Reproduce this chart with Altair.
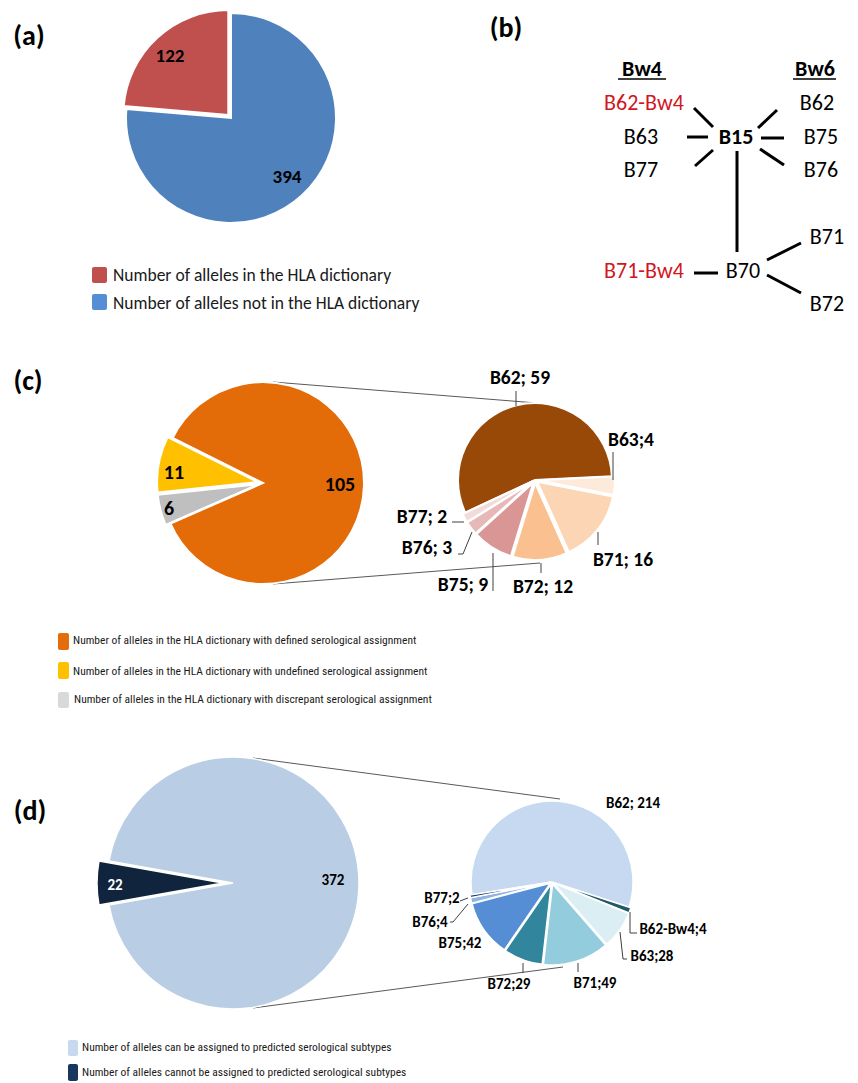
import altair as alt
import pandas as pd
import numpy as np

OFF = 8  # page margin: image coords -> plot coords

# ------------------------- DATA -------------------------
# (a)
a_names = ["Number of alleles not in the HLA dictionary", "Number of alleles in the HLA dictionary"]
a_values = [394, 122]
a_colors = ["#4F81BD", "#C0504D"]
a_legend_colors = ["#C0504D", "#558ED5"]
a_legend_text = ["Number of alleles in the HLA dictionary", "Number of alleles not in the HLA dictionary"]

# (b) serology tree
b_nodes = ["B62-Bw4", "B63", "B77", "B62", "B75", "B76", "B71", "B70", "B71-Bw4", "B72"]
b_node_colors = ["#D0161E", "black", "black", "black", "black", "black", "black", "black", "#D0161E", "black"]
b_heads = ["Bw4", "Bw6", "B15"]

# (c)
c_values = [105, 6, 11]
c_colors = ["#E36C09", "#BFBFBF", "#FFC000"]
c_legend_colors = ["#E46C0A", "#FFC000", "#D9D9D9"]
c_legend_text = [
    "Number of alleles in the HLA dictionary with defined serological  assignment",
    "Number of alleles in the HLA dictionary with undefined serological assignment",
    "Number of alleles in the HLA dictionary with discrepant serological  assignment",
]
c_sub_names = ["B62", "B63", "B71", "B72", "B75", "B76", "B77"]
c_sub_values = [59, 4, 16, 12, 9, 3, 2]
c_sub_colors = ["#984807", "#FDEADA", "#FCD5B5", "#FAC090", "#D99694", "#E6B9B8", "#F2DCDB"]
c_sub_labels = ["B62; 59", "B63;4", "B71; 16", "B72; 12", "B75; 9", "B76; 3", "B77; 2"]

# (d)
d_values = [372, 22]
d_colors = ["#B9CDE5", "#10243E"]
d_legend_colors = ["#C6D9F1", "#17375E"]
d_legend_text = [
    "Number of alleles can be assigned to predicted serological subtypes",
    "Number of alleles cannot be assigned to predicted serological subtypes",
]
d_sub_names = ["B62", "B62-Bw4", "B63", "B71", "B72", "B75", "B76", "B77"]
d_sub_values = [214, 4, 28, 49, 29, 42, 4, 2]
d_sub_colors = ["#C6D9F1", "#215968", "#DBEEF4", "#93CDDD", "#31859C", "#558ED5", "#8EB4E3", "#17375E"]
d_sub_labels = ["B62; 214", "B62-Bw4;4", "B63;28", "B71;49", "B72;29", "B75;42", "B76;4", "B77;2"]

FONT = "Carlito, Lato, sans-serif"
NARROW = "Roboto Condensed, Roboto, sans-serif"

# ------------------------- HELPERS -------------------------
def pie(values, colors, cx, cy, r, start_deg, explode, stroke_w=1.5):
    total = float(sum(values))
    cum = np.concatenate([[0], np.cumsum(values)])
    df = pd.DataFrame({"start": cum[:-1], "end": cum[1:], "color": colors, "ex": explode})
    mid = np.deg2rad(start_deg + (df.start + df.end) / 2 / total * 360)
    df["cx"] = cx - OFF + df.ex * np.sin(mid)
    df["cy"] = cy - OFF - df.ex * np.cos(mid)
    s = float(np.deg2rad(start_deg))
    return alt.Chart(df).mark_arc(radius=r, stroke="white", strokeWidth=stroke_w).encode(
        x=alt.X("cx:Q", scale=None, axis=None),
        y=alt.Y("cy:Q", scale=None, axis=None),
        theta=alt.Theta("start:Q", stack=None,
                        scale=alt.Scale(domain=[0, total], range=[s, s + 2 * np.pi])),
        theta2="end:Q",
        color=alt.Color("color:N", scale=None),
    )


def texts(labels, xs, ys, size, weight="normal", color="black", font=FONT, align="center", colors=None):
    df = pd.DataFrame({"t": labels, "x": [v - OFF for v in xs], "y": [v - OFF for v in ys]})
    enc = dict(x=alt.X("x:Q", scale=None, axis=None), y=alt.Y("y:Q", scale=None, axis=None), text="t:N")
    if colors is not None:
        df["c"] = colors
        enc["color"] = alt.Color("c:N", scale=None)
        return alt.Chart(df).mark_text(font=font, fontSize=size, fontWeight=weight, align=align,
                                       baseline="middle").encode(**enc)
    return alt.Chart(df).mark_text(font=font, fontSize=size, fontWeight=weight, align=align,
                                   baseline="middle", color=color).encode(**enc)


def segs(seglist, width=1.0, color="#404040"):
    df = pd.DataFrame(seglist, columns=["x1", "y1", "x2", "y2"]) - OFF
    return alt.Chart(df).mark_rule(strokeWidth=width, color=color).encode(
        x=alt.X("x1:Q", scale=None, axis=None), y=alt.Y("y1:Q", scale=None, axis=None),
        x2="x2:Q", y2="y2:Q")


def legend_boxes(colors, x1, x2, y1s, y2s):
    df = pd.DataFrame({"x1": x1 - OFF, "x2": x2 - OFF,
                       "y1": [v - OFF for v in y1s], "y2": [v - OFF for v in y2s], "c": colors})
    return alt.Chart(df).mark_rect(cornerRadius=2).encode(
        x=alt.X("x1:Q", scale=None, axis=None), x2="x2:Q",
        y=alt.Y("y1:Q", scale=None, axis=None), y2="y2:Q",
        color=alt.Color("c:N", scale=None))


layers = []

# panel tags
layers.append(texts(["(a)", "(b)", "(c)", "(d)"], [29, 506, 28, 30], [37, 29, 382, 812], 28, "bold"))

# ---------- (a) ----------
layers.append(pie(a_values, a_colors, 231, 118, 105, 0, [0, 4], 2))
layers.append(texts([str(a_values[1]), str(a_values[0])], [170, 287], [56, 177], 19, "bold"))
layers.append(legend_boxes(a_legend_colors, 92, 107, [267, 294], [283, 310]))
layers.append(texts(a_legend_text, [113, 113], [276, 304], 17.5, color="#1a1a1a", align="left"))

# ---------- (b) ----------
b_x = [644, 641, 641, 817, 821, 821, 827, 743, 644, 827]
b_y = [103, 137, 170, 103, 137, 170, 237, 271, 271, 304]
layers.append(texts(b_nodes, b_x, b_y, 22, colors=b_node_colors))
layers.append(texts(b_heads, [642, 815, 736], [69, 69, 137], 22, "bold"))
layers.append(segs([
    (694, 108, 713, 127), (687, 137, 708, 137), (695, 166, 713, 150),
    (758, 128, 777, 110), (761, 138, 784, 138), (760, 149, 784, 165),
    (737, 151, 737, 252), (694, 273, 718, 273), (767, 260, 801, 243), (767, 275, 801, 293),
], width=3, color="black"))
layers.append(segs([(618, 79, 666, 79), (793, 79, 836, 79)], width=1.5, color="black"))

# ---------- (c) ----------
layers.append(segs([(273, 382, 537, 403), (273, 584, 540, 563)], width=1, color="#595959"))
layers.append(pie(c_values, c_colors, 263, 483, 101, -63.5, [0, 5, 5], 2))
layers.append(texts([str(c_values[2]), str(c_values[1]), str(c_values[0])],
                    [174, 169, 340], [473, 509, 485], 20, "bold"))
layers.append(pie(c_sub_values, c_sub_colors, 535, 480, 77, -115, [0, 3, 3, 3, 3, 3, 3], 2))
layers.append(segs([
    (516, 391, 516, 406), (613, 452, 613, 480), (598, 532, 598, 545), (541, 563, 541, 573),
    (493, 553, 493, 591), (458, 554, 463, 554), (463, 554, 472, 532), (452, 522, 464, 522),
]))
layers.append(texts(c_sub_labels, [520, 631, 623, 543, 463, 427, 422],
                    [378, 440, 560, 587, 585, 548, 517], 19.5, "bold"))
layers.append(legend_boxes(c_legend_colors, 58, 69, [633, 662, 692], [650, 679, 708]))
layers.append(texts(c_legend_text, [73, 73, 74], [641, 672, 700], 11.5, color="#1a1a1a",
                    font=NARROW, align="left"))

# ---------- (d) ----------
layers.append(segs([(253, 758, 560, 799), (253, 1008, 563, 967)], width=1, color="#595959"))
layers.append(pie(d_values, d_colors, 233, 883, 126, 280.05, [0, 10], 1.5))
layers.append(texts([str(d_values[1])], [115], [885], 15, "bold", color="white"))
layers.append(texts([str(d_values[0])], [333], [880], 15, "bold"))
layers.append(pie(d_sub_values, d_sub_colors, 552, 882, 81, 261, [0, 2, 2, 2, 2, 2, 2, 2], 1.5))
layers.append(segs([
    (630, 912, 630, 933), (630, 933, 637, 933), (620, 932, 623, 959), (623, 959, 627, 959),
    (578, 963, 578, 972), (523, 963, 523, 973), (450, 922, 453, 922), (453, 922, 468, 904),
    (460, 901, 468, 898),
]))
layers.append(texts(d_sub_labels, [633, 673, 652, 595, 509, 460, 430, 442],
                    [803, 929, 956, 983, 984, 943, 922, 898], 15, "bold"))
layers.append(legend_boxes(d_legend_colors, 68, 78, [1040, 1064], [1056, 1081]))
layers.append(texts(d_legend_text, [82, 82], [1048, 1073], 11.5, color="#1a1a1a",
                    font=NARROW, align="left"))

chart = alt.layer(*layers).resolve_scale(theta="independent").properties(
    width=842, height=1075, padding=0, autosize="none"
).configure_view(stroke=None)

chart.save("out.html", embed_options={"renderer": "svg", "actions": False})
